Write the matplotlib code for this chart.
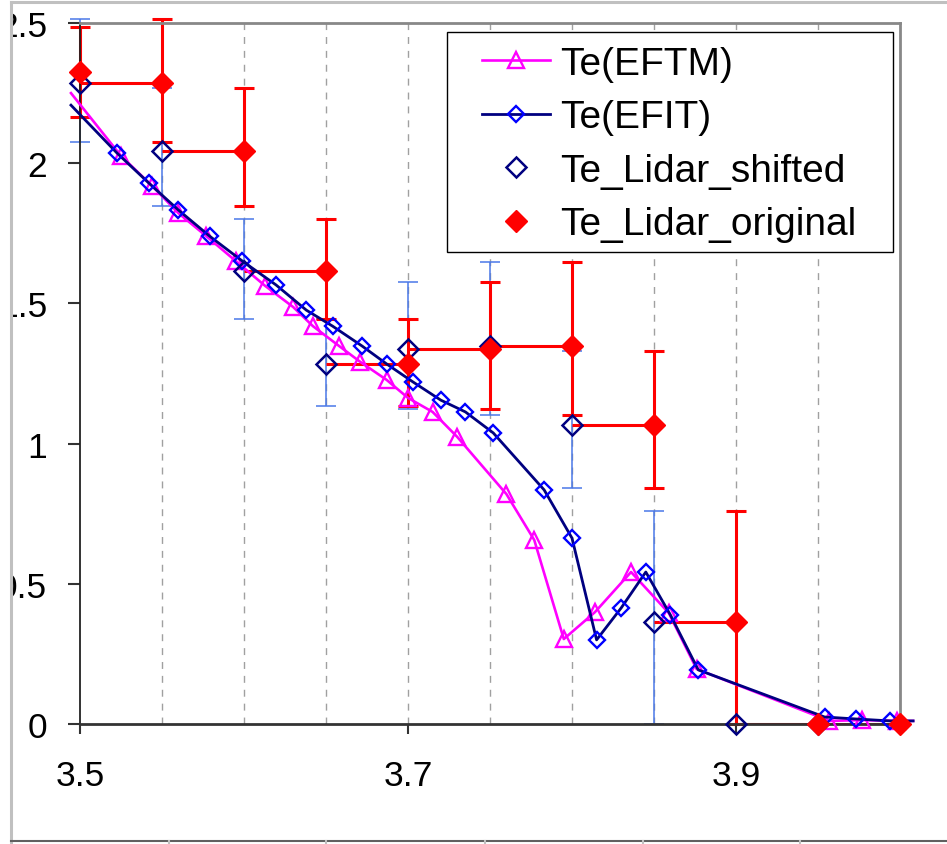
import matplotlib.pyplot as plt
from matplotlib.lines import Line2D
from matplotlib.patches import Rectangle
from matplotlib.legend_handler import HandlerLine2D

plt.rcParams['font.family'] = ['Liberation Sans', 'DejaVu Sans']

# Te(EFTM) - magenta triangles (first and last points lie just outside the axis)
eftm_x = [3.4945, 3.525, 3.544, 3.560, 3.577, 3.595, 3.613, 3.630, 3.642, 3.658,
          3.671, 3.687, 3.700, 3.715, 3.730, 3.760, 3.777, 3.795, 3.814, 3.836,
          3.859, 3.876, 3.957, 3.977, 3.998, 4.008]
eftm_y = [2.250, 2.026, 1.919, 1.822, 1.740, 1.651, 1.562, 1.487, 1.419, 1.348,
          1.291, 1.227, 1.163, 1.113, 1.024, 0.820, 0.656, 0.303, 0.399, 0.542,
          0.396, 0.196, 0.011, 0.014, 0.011, 0.011]

# Te(EFIT) - navy line, blue diamonds
efit_x = [3.4945, 3.5226, 3.542, 3.560, 3.579, 3.599, 3.6195, 3.638, 3.654, 3.672,
          3.687, 3.703, 3.720, 3.735, 3.752, 3.783, 3.800, 3.815, 3.830, 3.845,
          3.860, 3.877, 3.954, 3.973, 3.994, 4.008]
efit_y = [2.207, 2.036, 1.929, 1.833, 1.740, 1.651, 1.566, 1.476, 1.419, 1.348,
          1.284, 1.220, 1.155, 1.113, 1.038, 0.835, 0.663, 0.300, 0.414, 0.542,
          0.389, 0.193, 0.025, 0.018, 0.011, 0.011]

# Lidar, original positions
lidar_orig_x = [3.50, 3.55, 3.60, 3.65, 3.70, 3.75, 3.80, 3.85, 3.90, 3.95, 4.00]
lidar_orig_y = [2.325, 2.286, 2.043, 1.615, 1.284, 1.337, 1.348, 1.066, 0.364, 0.0, 0.0]
lidar_orig_err_lo = [0.16, 0.21, 0.195, 0.17, 0.15, 0.215, 0.245, 0.225, 0.364, 0.0, 0.0]
lidar_orig_err_hi = [0.16, 0.23, 0.225, 0.185, 0.16, 0.24, 0.30, 0.265, 0.395, 0.0, 0.0]
lidar_orig_xerr = [0.05] * 11

# Lidar, shifted positions
lidar_shift_x = [3.50, 3.55, 3.60, 3.65, 3.70, 3.75, 3.80, 3.85, 3.90, 3.95]
lidar_shift_y = [2.286, 2.043, 1.615, 1.284, 1.337, 1.348, 1.066, 0.364, 0.0, 0.0]
lidar_shift_err_lo = [0.21, 0.195, 0.17, 0.15, 0.215, 0.245, 0.225, 0.364, 0.0, 0.0]
lidar_shift_err_hi = [0.23, 0.225, 0.185, 0.16, 0.24, 0.30, 0.265, 0.395, 0.0, 0.0]

x_ticks = [3.5, 3.7, 3.9]
y_ticks = [0, 0.5, 1, 1.5, 2, 2.5]
y_labels = ['0', '0.5', '1', '1.5', '2', '2.5']
grid_x = [3.55, 3.60, 3.65, 3.70, 3.75, 3.80, 3.85, 3.90, 3.95]

W, H = 947, 845
fig = plt.figure(figsize=(W / 100, H / 100), dpi=100)
ax = fig.add_axes([80 / W, (H - 725) / H, 820 / W, 701 / H])

for gx in grid_x:
    ax.axvline(gx, color='#a0a0a0', lw=1, ls=(0, (5, 5)), zorder=0)

red = '#ff0000'
navy = '#000080'
blue = '#0000ff'
magenta = '#ff00ff'


def unclip(container):
    for child in container.get_children():
        child.set_clip_on(False)


# error bars
eb = ax.errorbar(lidar_orig_x, lidar_orig_y, yerr=[lidar_orig_err_lo, lidar_orig_err_hi],
                 fmt='none', ecolor=red, elinewidth=2.2, capsize=7, capthick=2.2,
                 zorder=2)
unclip(eb)
ax.errorbar(lidar_orig_x, lidar_orig_y, xerr=[lidar_orig_xerr, [0] * 11], fmt='none',
            ecolor=red, elinewidth=2.2, capsize=0, zorder=2)
eb = ax.errorbar(lidar_shift_x, lidar_shift_y, yerr=[lidar_shift_err_lo, lidar_shift_err_hi],
                 fmt='none', ecolor='#4a78e8', elinewidth=1.1, capsize=7,
                 capthick=1.1, zorder=1.5)
unclip(eb)

ax.plot(eftm_x, eftm_y, color=magenta, lw=1.9, marker='^', ms=12,
        mfc='none', mec=magenta, mew=1.7, markevery=slice(1, -1),
        zorder=3, clip_on=False, label='Te(EFTM)')
ax.plot(efit_x, efit_y, color=navy, lw=2.0, marker='D', ms=8.3,
        mfc='none', mec=blue, mew=1.7, markevery=slice(1, -1),
        zorder=4, clip_on=False, label='Te(EFIT)')
ax.plot(lidar_shift_x, lidar_shift_y, ls='none', marker='D', ms=10.5, mfc='none',
        mec=navy, mew=1.8, zorder=5, clip_on=False, label='Te_Lidar_shifted')
ax.plot(lidar_orig_x, lidar_orig_y, ls='none', marker='D', ms=11, mfc=red,
        mec=red, zorder=6, clip_on=False, label='Te_Lidar_original')

ax.set_xlim(3.5, 4.0)
ax.set_ylim(0, 2.5)
ax.set_xticks(x_ticks)
ax.set_xticklabels([str(t) for t in x_ticks])
ax.set_yticks(y_ticks)
ax.set_yticklabels(y_labels)
ax.tick_params(axis='x', direction='out', length=7, width=1.5, pad=18,
               labelsize=25.5, color='#333333')
ax.tick_params(axis='y', direction='out', length=8.6, width=1.5, pad=15,
               labelsize=25.5, color='#333333')

ax.spines['left'].set_color('#222222')
ax.spines['left'].set_linewidth(1.3)
ax.spines['bottom'].set_color('#333333')
ax.spines['bottom'].set_linewidth(2)
ax.spines['top'].set_color('#888888')
ax.spines['top'].set_linewidth(2)
ax.spines['right'].set_color('#888888')
ax.spines['right'].set_linewidth(2)

handles, labels = ax.get_legend_handles_labels()
leg = ax.legend(handles, labels, loc='upper left',
                bbox_to_anchor=(447 / W, 1 - 35 / H),
                bbox_transform=fig.transFigure, fontsize=28, frameon=False,
                handlelength=2.34, handletextpad=0.26, labelspacing=0.45,
                borderpad=0.3, borderaxespad=0,
                handler_map={h: HandlerLine2D(xpad=0.6, numpoints=1) for h in handles})
leg.set_zorder(20)
# legend box as drawn in the reference
ax.add_patch(Rectangle((447 / W, 1 - 253 / H), 446 / W, 220 / H,
                       transform=fig.transFigure, facecolor='white',
                       edgecolor='black', lw=1, zorder=15, clip_on=False))

# the crop of the chart area: hide what lies left of its border
fig.patches.append(Rectangle((0, 0), 10 / W, 1, transform=fig.transFigure,
                             facecolor='white', edgecolor='none', zorder=10))
border = '#c0c0c0'
fig.lines.append(Line2D([11 / W, 11 / W], [0, 1 - 3 / H], transform=fig.transFigure,
                        color=border, lw=2.2, zorder=11))
fig.lines.append(Line2D([11 / W, 1], [1 - 3 / H, 1 - 3 / H], transform=fig.transFigure,
                        color=border, lw=2.2, zorder=11))
fig.lines.append(Line2D([11 / W, 1], [3 / H, 3 / H], transform=fig.transFigure,
                        color='#606060', lw=1.5, zorder=11))
for tx in [169, 326, 485, 643, 800]:
    fig.lines.append(Line2D([tx / W, tx / W], [0, 3 / H], transform=fig.transFigure,
                            color=border, lw=1.5, zorder=11))

fig.savefig('out.png', dpi=100)
